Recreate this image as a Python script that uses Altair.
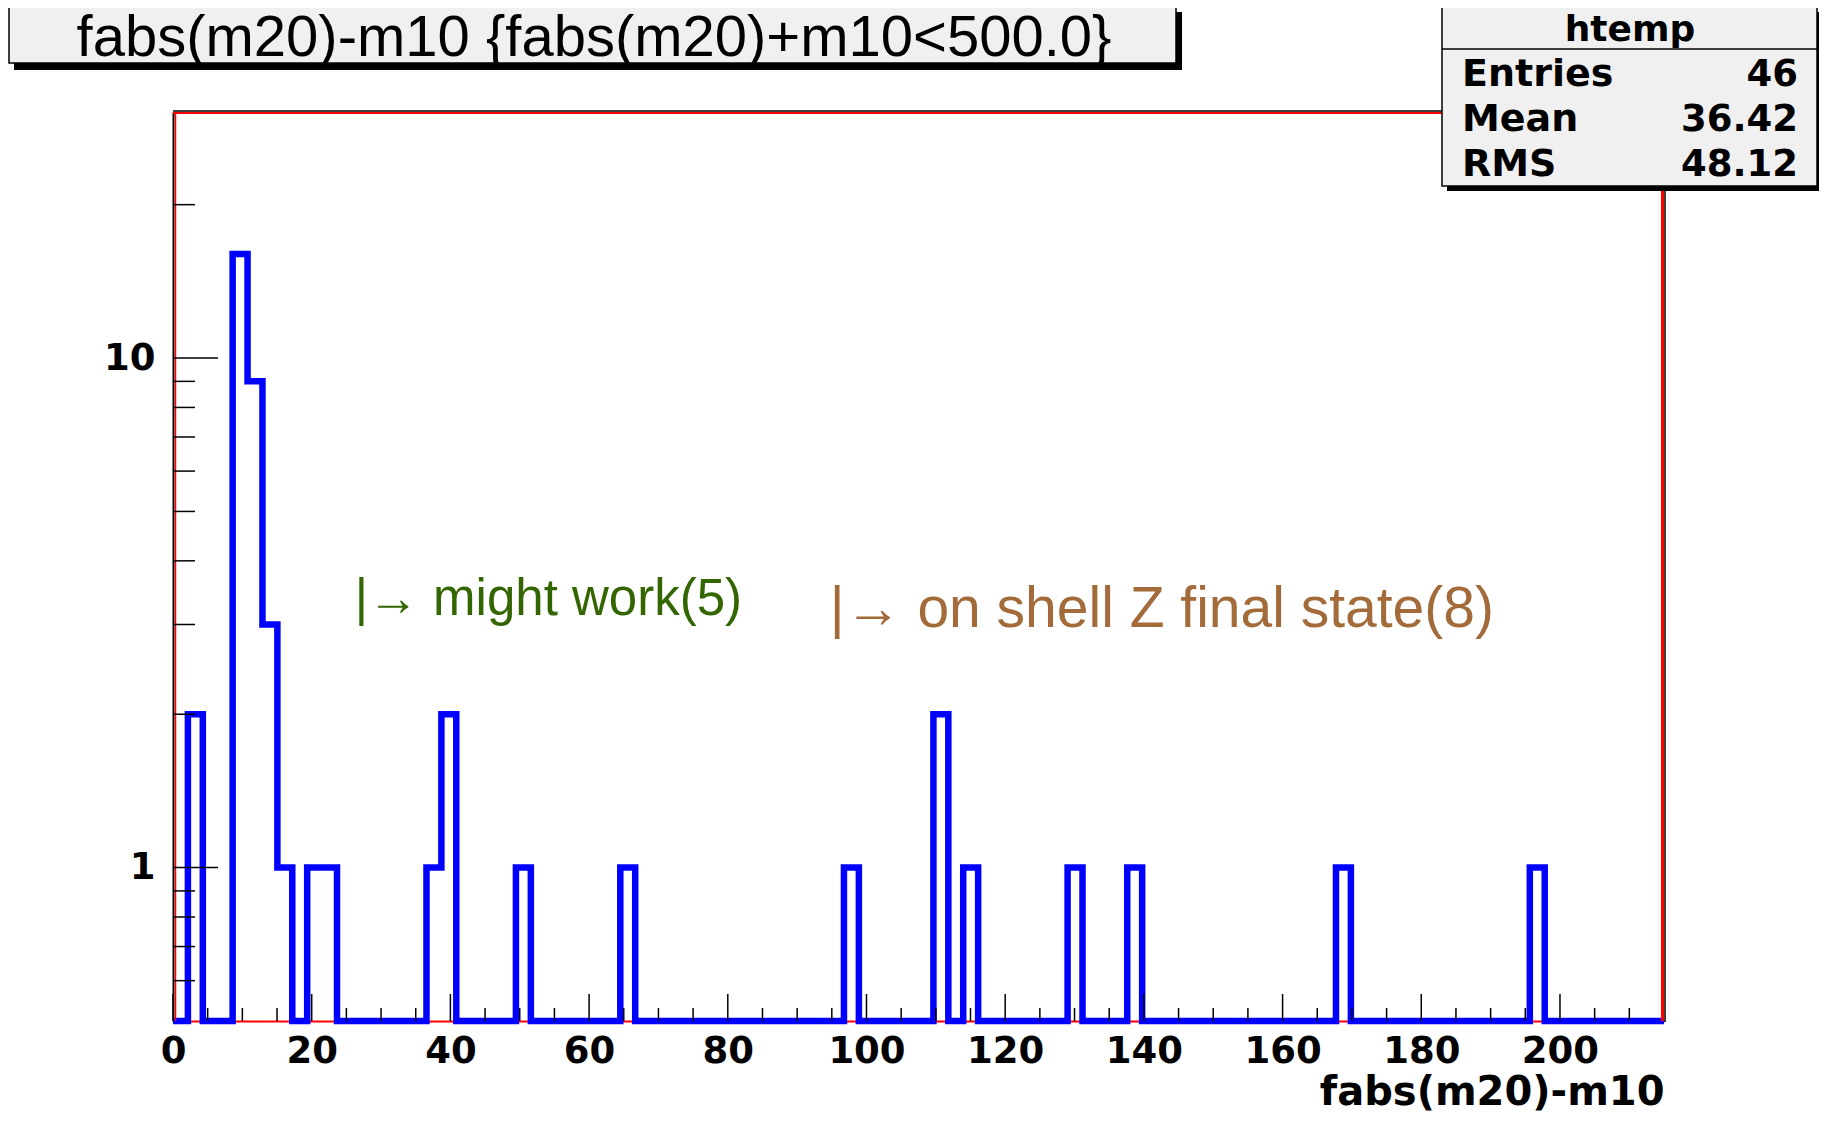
import altair as alt
import pandas as pd

# ---------------- data ----------------
# non-empty histogram bins: lower edge and number of entries
bin_lo = [2.15, 8.6, 10.75, 12.9, 15.05, 19.35, 21.5, 36.55, 38.7, 49.45,
          64.5, 96.75, 109.65, 113.95, 129.0, 137.6, 167.7, 195.65]
bin_counts = [2, 16, 9, 3, 1, 1, 1, 1, 2, 1, 1, 1, 2, 1, 1, 1, 1, 1]
n_bins = 100
x_min, x_max = 0.0, 215.0
y_min, y_max = 0.5, 30.4

x_label_values = [0, 20, 40, 60, 80, 100, 120, 140, 160, 180, 200]
x_minor_ticks = [5, 10, 15, 25, 30, 35, 45, 50, 55, 65, 70, 75, 85, 90, 95,
                 105, 110, 115, 125, 130, 135, 145, 150, 155, 165, 170, 175,
                 185, 190, 195, 205, 210]
y_label_values = [1, 10]
y_minor_ticks = [0.6, 0.7, 0.8, 0.9, 2, 3, 4, 5, 6, 7, 8, 9, 20]

title_text = "fabs(m20)-m10 {fabs(m20)+m10<500.0}"
x_title = "fabs(m20)-m10"
stats_name = "htemp"
stats_labels = ["Entries", "Mean", "RMS"]
stats_values = ["46", "36.42", "48.12"]

ann_text = ["|\u2192 might work(5)", "|\u2192 on shell Z final state(8)"]
ann_x = [26.2, 94.7]
ann_y = [3.35, 3.2]

# ---------------- build tables ----------------
bin_w = (x_max - x_min) / n_bins
counts_full = [0] * n_bins
for lo, c in zip(bin_lo, bin_counts):
    counts_full[int(round((lo - x_min) / bin_w))] = c
edges = [x_min + i * bin_w for i in range(n_bins)] + [x_max]
step_counts = counts_full + [counts_full[-1]]
hist = pd.DataFrame({"edge": edges, "count": step_counts})

one = pd.DataFrame({"k": [0]})

W, H = 1491, 909
FONT = "DejaVu Sans"

xscale = alt.Scale(domain=[x_min, x_max], nice=False, zero=False)
yscale = alt.Scale(type="log", domain=[y_min, y_max], nice=False)

xaxis = alt.Axis(
    values=x_label_values, format="d", ticks=False, grid=False,
    domainColor="#ff0000", domainWidth=2, labelFlush=False,
    labelOverlap=False, labelFont=FONT, labelFontWeight="bold",
    labelFontSize=37, labelColor="black", labelPadding=12,
    title=x_title, titleAnchor="end", titleFont=FONT,
    titleFontWeight="bold", titleFontSize=40, titleColor="black",
    titlePadding=3)
yaxis = alt.Axis(
    values=y_label_values, format="d", ticks=False, grid=False,
    domainColor="black", domainWidth=2, labelFlush=False,
    labelOverlap=False, labelFont=FONT, labelFontWeight="bold",
    labelFontSize=37, labelColor="black", labelPadding=18, title=None)


def rule(x, x2, y, y2, color, width):
    return alt.Chart(one).mark_rule(color=color, strokeWidth=width).encode(
        x=alt.value(x), x2=alt.value(x2), y=alt.value(y), y2=alt.value(y2))


def rect(x, x2, y, y2, fill, stroke=None, sw=0):
    kw = dict(fill=fill, strokeWidth=sw)
    if stroke:
        kw["stroke"] = stroke
    return alt.Chart(one).mark_rect(**kw).encode(
        x=alt.value(x), x2=alt.value(x2), y=alt.value(y), y2=alt.value(y2))


def text(s, x, y, **kw):
    return alt.Chart(one).mark_text(**kw).encode(
        x=alt.value(x), y=alt.value(y), text=alt.value(s))


# histogram outline (carries the axes)
histo = alt.Chart(hist).transform_calculate(
    yv=f"max(datum.count, {y_min})"
).mark_line(interpolate="step-after", color="#0000ff", strokeWidth=6.5,
            strokeJoin="miter", clip=False).encode(
    x=alt.X("edge:Q", scale=xscale, axis=xaxis),
    y=alt.Y("yv:Q", scale=yscale, axis=yaxis),
    order=alt.Order("edge:Q"),
)

# frame
frame = [
    rule(0, W, -1, -1, "black", 1.5),
    rule(0, W, 1, 1, "#ff0000", 2),
    rule(2.5, 2.5, 0, H, "#ff0000", 1.5),
    rule(W - 1.5, W - 1.5, 0, H, "#ff0000", 3),
    rule(W + 1, W + 1, 0, H + 1, "black", 1.5),
]

# ticks (inside the frame, as in ROOT)
xt_major = alt.Chart(pd.DataFrame({"edge": x_label_values})).mark_rule(
    color="black", strokeWidth=1.5).encode(
    x=alt.X("edge:Q", scale=xscale, axis=xaxis), y=alt.value(H), y2=alt.value(H - 27))
xt_minor = alt.Chart(pd.DataFrame({"edge": x_minor_ticks})).mark_rule(
    color="black", strokeWidth=1.5).encode(
    x=alt.X("edge:Q", scale=xscale, axis=xaxis), y=alt.value(H), y2=alt.value(H - 13))
yt_major = alt.Chart(pd.DataFrame({"yv": y_label_values})).mark_rule(
    color="black", strokeWidth=1.5).encode(
    y=alt.Y("yv:Q", scale=yscale, axis=yaxis), x=alt.value(0), x2=alt.value(45))
yt_minor = alt.Chart(pd.DataFrame({"yv": y_minor_ticks})).mark_rule(
    color="black", strokeWidth=1.5).encode(
    y=alt.Y("yv:Q", scale=yscale, axis=yaxis), x=alt.value(0), x2=alt.value(22))

# annotations
ann = pd.DataFrame({"edge": ann_x, "yv": ann_y, "t": ann_text})
ann_green = alt.Chart(ann.iloc[[0]]).mark_text(
    align="left", baseline="middle", font="Liberation Sans", fontSize=51,
    color="#336600").encode(
    x=alt.X("edge:Q", scale=xscale, axis=xaxis),
    y=alt.Y("yv:Q", scale=yscale, axis=yaxis), text="t:N")
ann_brown = alt.Chart(ann.iloc[[1]]).mark_text(
    align="left", baseline="middle", font="Liberation Sans", fontSize=57,
    color="#a36a3a").encode(
    x=alt.X("edge:Q", scale=xscale, axis=xaxis),
    y=alt.Y("yv:Q", scale=yscale, axis=yaxis), text="t:N")

# title box
title_box = [
    rect(-159, 1009, -100, -42, "black"),
    rect(-164, 1003, -106, -49, "#f0f0f0", "black", 1.5),
    text(title_text, 421, -73, font="Liberation Sans", fontSize=58,
         color="black", align="center", baseline="middle"),
]

# stats box
sx0, sx1, sy0, sy1 = 1269, 1644, -105, 74
stats = [
    rect(sx0 + 5, sx1 + 4, sy0 + 5, sy1 + 5, "black"),
    rect(sx0, sx1, sy0, sy1, "#f0f0f0", "black", 1.5),
    rule(sx0, sx1, -63, -63, "black", 1.5),
    text(stats_name, 1457, -82, font=FONT, fontSize=36, fontWeight="bold",
         color="black", align="center", baseline="middle"),
]
row_y = [-37, 8, 53]
for lab, val, yy in zip(stats_labels, stats_values, row_y):
    stats.append(text(lab, 1289, yy, font=FONT, fontSize=38, fontWeight="bold",
                      color="black", align="left", baseline="middle"))
    stats.append(text(val, 1625, yy, font=FONT, fontSize=37, fontWeight="bold",
                      color="black", align="right", baseline="middle"))

chart = alt.layer(
    histo, *frame, xt_major, xt_minor, yt_major, yt_minor,
    ann_green, ann_brown, *title_box, *stats
).properties(
    width=W, height=H,
    padding={"left": 165, "top": 104, "right": 155, "bottom": 91},
    autosize=alt.AutoSizeParams(type="none"),
    background="white",
).configure_view(strokeWidth=0)

chart.save("out.html", embed_options={"renderer": "svg", "actions": False})
